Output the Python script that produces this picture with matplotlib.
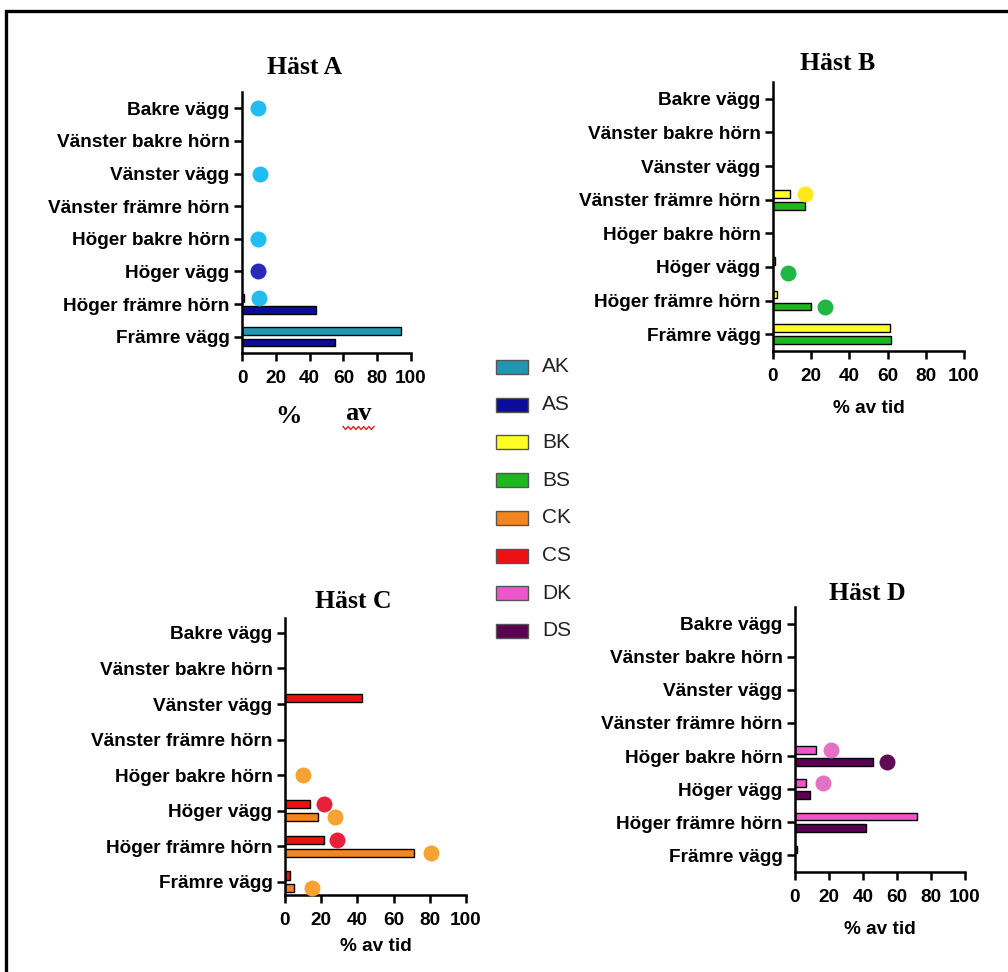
import matplotlib
matplotlib.use("Agg")
import matplotlib.pyplot as plt
from matplotlib.patches import Rectangle
from matplotlib.lines import Line2D
import numpy as np

nan = np.nan

categories = ["Bakre vägg", "Vänster bakre hörn", "Vänster vägg", "Vänster främre hörn",
              "Höger bakre hörn", "Höger vägg", "Höger främre hörn", "Främre vägg"]
x_ticks = [0, 20, 40, 60, 80, 100]

series_names = ["AK", "AS", "BK", "BS", "CK", "CS", "DK", "DS"]
bar_colors = ["#2196b3", "#0c0c9c", "#ffff22", "#1db81d", "#f2851e", "#ee1111", "#ee55cc", "#5a0050"]
dot_colors = ["#22bdf0", "#2a2ab8", "#ffe81a", "#20b845", "#f7a233", "#e8203a", "#e472c4", "#5e0a55"]

# Häst A
A_K_bars = [nan, nan, nan, nan, nan, nan, 1, 94]
A_S_bars = [nan, nan, nan, nan, nan, nan, 44, 55]
A_K_dots = [9.5, nan, 10.5, nan, 9.3, nan, 10, nan]
A_S_dots = [nan, nan, nan, nan, nan, 9.3, nan, nan]
# Häst B
B_K_bars = [nan, nan, nan, 9, nan, 0.8, 2, 61]
B_S_bars = [nan, nan, nan, 17, nan, nan, 20, 62]
B_K_dots = [nan, nan, nan, 17, nan, nan, nan, nan]
B_S_dots = [nan, nan, nan, nan, nan, 7.8, 27, nan]
# Häst C
C_K_bars = [nan, nan, nan, nan, nan, 18.4, 71, 5.2]
C_S_bars = [nan, nan, 42.4, nan, nan, 13.8, 21.7, 2.8]
C_K_dots = [nan, nan, nan, nan, 10, 27.8, 80.7, 14.7]
C_S_dots = [nan, nan, nan, nan, nan, 21.7, 28.5, nan]
# Häst D
D_K_bars = [nan, nan, nan, nan, 12.2, 6.5, 71.6, 1.4]
D_S_bars = [nan, nan, nan, nan, 45.7, 8.8, 41.8, nan]
D_K_dots = [nan, nan, nan, nan, 21, 16.3, nan, nan]
D_S_dots = [nan, nan, nan, nan, 54.3, nan, nan, nan]

W, H = 1008, 972
fig = plt.figure(figsize=(W / 100, H / 100), dpi=100)

def rect(x0, x1, ytop, ybot):
    return [x0 / W, 1 - ybot / H, (x1 - x0) / W, (ybot - ytop) / H]

LABEL_FONT = dict(family="Liberation Sans", weight="bold", size=13.7)
TITLE_FONT = dict(family="Liberation Serif", weight="bold", size=18.5)

def draw_panel(ax, kb, sb, kd, sd, ki, si, k_top=True, ylim=(7.5, -0.5)):
    y = np.arange(len(categories))
    off = 0.18
    k_off = -off if k_top else off
    s_off = -k_off
    kb = np.array(kb, float); sb = np.array(sb, float)
    kd = np.array(kd, float); sd = np.array(sd, float)
    for vals, o, ci in ((kb, k_off, ki), (sb, s_off, si)):
        m = ~np.isnan(vals)
        ax.barh(y[m] + o, vals[m], height=0.23, color=bar_colors[ci],
                edgecolor="black", linewidth=1.0, zorder=2)
    has_bar = ~(np.isnan(kb) & np.isnan(sb))
    for vals, o, ci in ((kd, k_off, ki), (sd, s_off, si)):
        m = ~np.isnan(vals)
        yy = np.where(has_bar, y + o, y)[m]
        ax.plot(vals[m], yy, "o", ms=11.5, color=dot_colors[ci], mec="none",
                zorder=3, clip_on=False)
    ax.set_xlim(0, 100)
    ax.set_ylim(*ylim)
    ax.set_yticks(y)
    ax.set_yticklabels(categories, **LABEL_FONT)
    ax.set_xticks(x_ticks)
    ax.set_xticklabels([str(t) for t in x_ticks], **LABEL_FONT)
    for s in ("top", "right"):
        ax.spines[s].set_visible(False)
    for s in ("left", "bottom"):
        ax.spines[s].set_linewidth(1.8)
    ax.tick_params(axis="both", length=6, width=1.8, pad=3)
    ax.tick_params(axis="x", pad=6)
    ax.patch.set_alpha(0)

axA = fig.add_axes(rect(242, 411, 92, 353))
draw_panel(axA, A_K_bars, A_S_bars, A_K_dots, A_S_dots, 0, 1)
axB = fig.add_axes(rect(773, 964, 82, 351))
draw_panel(axB, B_K_bars, B_S_bars, B_K_dots, B_S_dots, 2, 3)
axC = fig.add_axes(rect(285, 466, 618, 895))
draw_panel(axC, C_K_bars, C_S_bars, C_K_dots, C_S_dots, 4, 5, k_top=False, ylim=(7.37, -0.42))
axD = fig.add_axes(rect(795, 965, 607, 872))
draw_panel(axD, D_K_bars, D_S_bars, D_K_dots, D_S_dots, 6, 7)

axB.set_xlabel("% av tid", labelpad=11, **LABEL_FONT)
axC.set_xlabel("% av tid", labelpad=7, **LABEL_FONT)
axD.set_xlabel("% av tid", labelpad=11, **LABEL_FONT)

def ftext(px, py, s, **kw):
    fig.text(px / W, 1 - py / H, s, ha="center", va="center", **kw)

ftext(305, 68, "Häst A", **TITLE_FONT)
ftext(838, 63, "Häst B", **TITLE_FONT)
ftext(353, 602, "Häst C", **TITLE_FONT)
ftext(867, 593, "Häst D", **TITLE_FONT)

ftext(288, 416, "%", family="Liberation Serif", weight="bold", size=19)
ftext(358, 413, "av", family="Liberation Serif", weight="bold", size=19)
# spell-check squiggle under "av"
zx = np.linspace(343, 374, 13)
zy = 428 + np.where(np.arange(13) % 2 == 0, -1.5, 1.5)
fig.add_artist(Line2D(zx / W, 1 - zy / H, color="#e02020", lw=1.0))

# legend
for i, (name, c) in enumerate(zip(series_names, bar_colors)):
    yc = 367 + i * 37.7
    fig.add_artist(Rectangle((496 / W, 1 - (yc + 7) / H), 32 / W, 14 / H,
                             facecolor=c, edgecolor="#555555", linewidth=1.0,
                             transform=fig.transFigure))
    fig.text(542 / W, 1 - yc / H, name, ha="left", va="center",
             family="Liberation Sans", size=15, color="#222222")

# outer frame
fig.add_artist(Rectangle((5.5 / W, -0.05), 1.1, 1 - 11.5 / H + 0.05,
                         facecolor="none", edgecolor="black", linewidth=2.4,
                         transform=fig.transFigure))

fig.savefig("out.png", dpi=100)
